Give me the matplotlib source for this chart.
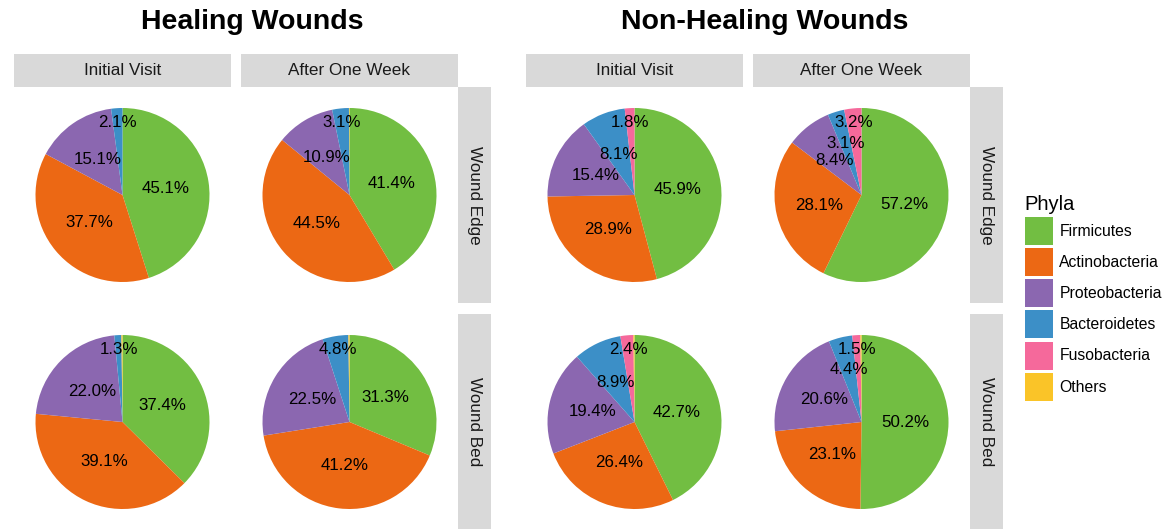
import numpy as np
import matplotlib
matplotlib.use("Agg")
import matplotlib.pyplot as plt
from matplotlib.patches import Patch

plt.rcParams['font.family'] = ['Liberation Sans', 'DejaVu Sans']

# data
phyla = ["Firmicutes", "Actinobacteria", "Proteobacteria", "Bacteroidetes", "Fusobacteria", "Others"]
phyla_colors = ["#72BE42", "#EC6814", "#8B67B0", "#3C8FC7", "#F5699B", "#FAC428"]

groups = ["Healing Wounds", "Non-Healing Wounds"]
visits = ["Initial Visit", "After One Week"]
sites = ["Wound Edge", "Wound Bed"]

healing_edge_initial = [45.1, 37.7, 15.1, 2.1, 0.0, 0.0]
healing_edge_week = [41.4, 44.5, 10.9, 3.1, 0.0, 0.1]
healing_bed_initial = [37.4, 39.1, 22.0, 1.3, 0.0, 0.2]
healing_bed_week = [31.3, 41.2, 22.5, 4.8, 0.0, 0.2]
nonhealing_edge_initial = [45.9, 28.9, 15.4, 8.1, 1.8, 0.0]
nonhealing_edge_week = [57.2, 28.1, 8.4, 3.1, 3.2, 0.0]
nonhealing_bed_initial = [42.7, 26.4, 19.4, 8.9, 2.4, 0.2]
nonhealing_bed_week = [50.2, 23.1, 20.6, 4.4, 1.5, 0.2]

panels = {
    ("Healing Wounds", "Wound Edge", "Initial Visit"): healing_edge_initial,
    ("Healing Wounds", "Wound Edge", "After One Week"): healing_edge_week,
    ("Healing Wounds", "Wound Bed", "Initial Visit"): healing_bed_initial,
    ("Healing Wounds", "Wound Bed", "After One Week"): healing_bed_week,
    ("Non-Healing Wounds", "Wound Edge", "Initial Visit"): nonhealing_edge_initial,
    ("Non-Healing Wounds", "Wound Edge", "After One Week"): nonhealing_edge_week,
    ("Non-Healing Wounds", "Wound Bed", "Initial Visit"): nonhealing_bed_initial,
    ("Non-Healing Wounds", "Wound Bed", "After One Week"): nonhealing_bed_week,
}

W, H = 1176, 529
fig = plt.figure(figsize=(W / 100, H / 100), dpi=100)

PANEL_BG = "#EBEBEB"
STRIP_BG = "#D9D9D9"
TXT = "#1A1A1A"
R_PX = 87.0


def px_axes(x0, y0, x1, y1):
    return fig.add_axes([x0 / W, 1 - y1 / H, (x1 - x0) / W, (y1 - y0) / H])


def strip(x0, y0, x1, y1, label, rot=0):
    ax = px_axes(x0, y0, x1, y1)
    ax.set_facecolor(STRIP_BG)
    ax.set_xticks([])
    ax.set_yticks([])
    for s in ax.spines.values():
        s.set_visible(False)
    ax.text(0.5, 0.5, label, transform=ax.transAxes, ha="center", va="center",
            fontsize=12.3, color=TXT, rotation=rot)


def draw_pie(ax, vals, w_px, h_px):
    ax.set_facecolor(PANEL_BG)
    ax.set_xticks([])
    ax.set_yticks([])
    for s in ax.spines.values():
        s.set_visible(False)
    ax.pie(vals, colors=phyla_colors, startangle=90, counterclock=False,
           radius=1.0, wedgeprops=dict(linewidth=0))
    ax.set_xlim(-w_px / 2 / R_PX, w_px / 2 / R_PX)
    ax.set_ylim(-h_px / 2 / R_PX, h_px / 2 / R_PX)
    ax.set_aspect("auto")
    total = sum(vals)
    labeled = [i for i, v in enumerate(vals) if v >= 1.0]
    cum = 0.0
    for i, v in enumerate(vals):
        mid = (cum + v / 2) / total
        cum += v
        if v < 1.0:
            continue
        frac = v / total
        r = 0.5
        if frac < 0.05:
            k = labeled.index(i)
            nxt = labeled[k + 1] if k + 1 < len(labeled) else None
            if nxt is not None and vals[nxt] / total < 0.05:
                r = 0.62
            else:
                r = 0.84
        ang = np.deg2rad(90 - 360 * mid)
        ax.text(r * np.cos(ang), r * np.sin(ang), f"{v:.1f}%",
                ha="center", va="center", fontsize=12.2, color="black")


group_x = [13, 525]
col_w = 217
col_gap = 10
top_strip = (54, 87)
rows = [(87, 303), (314, 530)]

for g, gname in enumerate(groups):
    gx = group_x[g]
    cols = [(gx + 1, gx + 1 + col_w), (gx + 1 + col_w + col_gap, gx + 1 + 2 * col_w + col_gap)]
    for c, vname in enumerate(visits):
        strip(cols[c][0], top_strip[0], cols[c][1], top_strip[1], vname)
        for r, sname in enumerate(sites):
            ax = px_axes(cols[c][0], rows[r][0], cols[c][1], rows[r][1])
            draw_pie(ax, panels[(gname, sname, vname)],
                     cols[c][1] - cols[c][0], rows[r][1] - rows[r][0])
    rx = cols[1][1]
    for r, sname in enumerate(sites):
        strip(rx, rows[r][0], rx + 33, rows[r][1], sname, rot=-90)
    cx = (cols[0][0] + cols[1][1] + 33) / 2
    fig.text(cx / W, 1 - 22 / H, gname, ha="center", va="center",
             fontsize=20.5, fontweight="bold", color="black")

handles = [Patch(facecolor=col, edgecolor="none", label=p) for p, col in zip(phyla, phyla_colors)]
leg = fig.legend(handles=handles, title="Phyla", loc="upper left",
                 bbox_to_anchor=(1017 / W, 1 - 187 / H), frameon=False,
                 fontsize=11.3, title_fontsize=14.5, handlelength=1.8,
                 handleheight=2.37, labelspacing=0.2, handletextpad=0.4,
                 borderpad=0, alignment="left")

fig.savefig("out.png", dpi=100, facecolor="white")
